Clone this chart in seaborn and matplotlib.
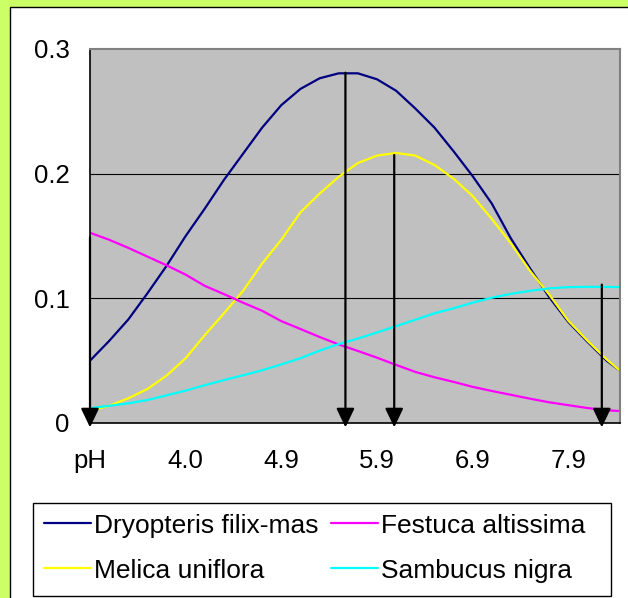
import pandas as pd
import matplotlib.pyplot as plt
from matplotlib.patches import Rectangle
import seaborn as sns

# pH positions along the category axis and the response values
ph = [3.0, 3.2, 3.4, 3.6, 3.8, 4.0, 4.2, 4.4, 4.6, 4.8, 5.0, 5.2, 5.4, 5.6, 5.8,
      6.0, 6.2, 6.4, 6.6, 6.8, 7.0, 7.2, 7.4, 7.6, 7.8, 8.0, 8.2, 8.4, 8.54]

dryopteris = [0.050, 0.0658, 0.083, 0.104, 0.126, 0.150, 0.172, 0.195, 0.216, 0.237,
              0.255, 0.268, 0.2765, 0.2805, 0.2805, 0.2757, 0.2665, 0.2523, 0.237, 0.218,
              0.198, 0.176, 0.148, 0.124, 0.101, 0.081, 0.0651, 0.050, 0.042]
melica = [0.0096, 0.0138, 0.0198, 0.0273, 0.038, 0.052, 0.0705, 0.088, 0.106, 0.128,
          0.147, 0.169, 0.184, 0.1975, 0.2085, 0.2145, 0.2166, 0.2145, 0.207, 0.196,
          0.182, 0.1637, 0.144, 0.122, 0.103, 0.082, 0.066, 0.051, 0.042]
festuca = [0.1526, 0.147, 0.1405, 0.1335, 0.1265, 0.119, 0.110, 0.1034, 0.0965, 0.090,
           0.0817, 0.0754, 0.069, 0.063, 0.0578, 0.0524, 0.0466, 0.041, 0.0367, 0.033,
           0.029, 0.0257, 0.0226, 0.0195, 0.0166, 0.0143, 0.012, 0.0102, 0.0096]
sambucus = [0.0118, 0.0138, 0.0158, 0.0184, 0.0222, 0.026, 0.0303, 0.0344, 0.0383, 0.0423,
            0.047, 0.052, 0.058, 0.0633, 0.0677, 0.0726, 0.0777, 0.0828, 0.088, 0.092,
            0.0965, 0.1005, 0.1036, 0.106, 0.108, 0.109, 0.1092, 0.1092, 0.109]

species = ["Dryopteris filix-mas", "Melica uniflora", "Festuca altissima", "Sambucus nigra"]
colors = ["#000080", "#FFFF00", "#FF00FF", "#00FFFF"]

# optimum markers (arrow x and the curve value where each arrow starts)
optimum_ph = [3.0, 5.67, 6.18, 8.35]
optimum_top = [0.149, 0.281, 0.215, 0.111]

tick_pos = [3, 4, 5, 6, 7, 8]
tick_labels = ["pH", "4.0", "4.9", "5.9", "6.9", "7.9"]
y_ticks = [0, 0.1, 0.2, 0.3]
y_labels = ["0", "0.1", "0.2", "0.3"]

# long-form table for seaborn
df = pd.concat([
    pd.DataFrame({"pH": ph, "value": vals, "species": name})
    for name, vals in zip(species, [dryopteris, melica, festuca, sambucus])
])

sns.set_theme(style="white")
plt.rcParams["font.family"] = ["Liberation Sans", "DejaVu Sans"]
plt.rcParams["text.color"] = "black"

W, H = 628, 598
fig = plt.figure(figsize=(W / 100, H / 100), dpi=100, facecolor="#CCFF66")

# white chart area with a thin black edge (only top/left edges visible)
fig.patches.append(Rectangle((10 / W, -0.2), 1.2, 1 - 7 / H + 0.2,
                             transform=fig.transFigure, facecolor="white",
                             edgecolor="black", linewidth=1, zorder=-10))

ax = fig.add_axes([90 / W, 1 - 423 / H, 530 / W, 374 / H])
ax.set_zorder(2)
ax.set_facecolor("#C0C0C0")

sns.lineplot(data=df, x="pH", y="value", hue="species", hue_order=species,
             palette=colors, linewidth=1.6, errorbar=None, ax=ax)

# gridlines at 0.1 and 0.2
for yv in y_ticks[1:-1]:
    ax.axhline(yv, color="black", linewidth=0.8, zorder=0.5)

# arrows pointing at each optimum
for x, top in zip(optimum_ph, optimum_top):
    ax.annotate("", xy=(x, -0.0035), xytext=(x, top),
                arrowprops=dict(arrowstyle="-|>,head_length=1.15,head_width=0.55",
                                color="black", linewidth=1.6, mutation_scale=10,
                                shrinkA=0, shrinkB=0),
                annotation_clip=False, zorder=5)

ax.set_xlim(3.0, 8.54)
ax.set_ylim(0, 0.3)
ax.set_xticks(tick_pos)
ax.set_xticklabels(tick_labels)
ax.set_yticks(y_ticks)
ax.set_yticklabels(y_labels)
ax.set_xlabel("")
ax.set_ylabel("")
ax.tick_params(axis="both", which="both", direction="out", length=6.5, width=1,
               color="black", labelsize=18.5, labelcolor="black")
ax.tick_params(axis="y", pad=8)
ax.tick_params(axis="x", pad=12)

for side in ["left", "bottom"]:
    ax.spines[side].set_color("black")
    ax.spines[side].set_linewidth(1.2)
for side in ["top", "right"]:
    ax.spines[side].set_color("#808080")
    ax.spines[side].set_linewidth(1.5)

# legend box drawn separately so it spans the chart width like the original
fig.patches.append(Rectangle((33 / W, 1 - 596 / H), (611 - 33) / W, (596 - 503) / H,
                             transform=fig.transFigure, facecolor="white",
                             edgecolor="black", linewidth=1, zorder=1))

handles, labels = ax.get_legend_handles_labels()
ax.get_legend().remove()
leg = fig.legend(handles, labels, ncol=2, loc="upper left",
                 bbox_to_anchor=(33 / W, 1 - 503 / H),
                 fontsize=19, frameon=False, labelcolor="black",
                 handlelength=1.8, handletextpad=0.12, columnspacing=0.45,
                 labelspacing=0.8, borderpad=0.4, borderaxespad=0)
leg.set_zorder(3)
for line in leg.get_lines():
    line.set_linewidth(1.6)

fig.savefig("out.png", dpi=100, facecolor=fig.get_facecolor())
